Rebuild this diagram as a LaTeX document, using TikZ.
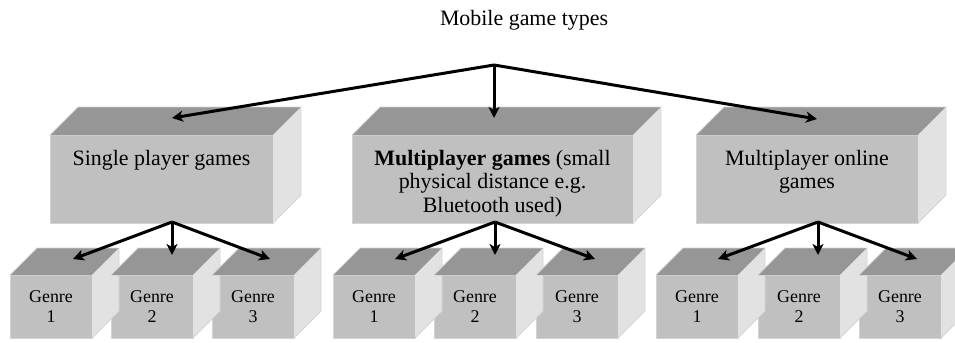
\documentclass[tikz,border=0pt]{standalone}
\usepackage{fontspec}
\setmainfont{Liberation Serif}
\usetikzlibrary{arrows.meta}
\definecolor{frontc}{HTML}{C0C0C0}
\definecolor{topc}{HTML}{969696}
\definecolor{sidec}{HTML}{E2E2E2}
\definecolor{edgec}{HTML}{D4D4D4}
\newcommand\cubefaces[2]{%
  \fill[topc] (#1.north west) -- ([shift={(#2,-#2)}]#1.north west) -- ([shift={(#2,-#2)}]#1.north east) -- (#1.north east) -- cycle;
  \fill[sidec] (#1.north east) -- ([shift={(#2,-#2)}]#1.north east) -- ([shift={(#2,-#2)}]#1.south east) -- (#1.south east) -- cycle;
  \draw[edgec,line width=0.8bp] (#1.north west) -- ([shift={(#2,-#2)}]#1.north west) -- ([shift={(#2,-#2)}]#1.north east) -- ([shift={(#2,-#2)}]#1.south east) -- (#1.south east);
}
\tikzset{
  bigface/.style={rectangle, fill=frontc, draw=edgec, line width=0.8bp, inner sep=0pt, outer sep=0pt, minimum height=88bp},
  smallface/.style={rectangle, fill=frontc, draw=edgec, line width=0.8bp, inner sep=0pt, outer sep=0pt, minimum width=82bp, minimum height=63bp, align=center, font=\fontsize{18}{19.5}\selectfont},
  bigtext/.style={inner sep=0pt, anchor=north, align=center, font=\fontsize{22}{23.5}\selectfont},
  arr/.style={-{Stealth[length=11bp,width=11bp,inset=3bp]}, line width=3bp, black}
}
\begin{document}
\begin{tikzpicture}[x=1bp,y=-1bp]
\useasboundingbox (0,0) rectangle (955,342);
\node[inner sep=0pt, anchor=base, font=\fontsize{22}{24}\selectfont] (title) at (524,25) {Mobile game types};
% big boxes
\node[bigface, minimum width=223bp] (b1) at (161.5,179) {};
\node[bigface, minimum width=281bp] (b2) at (492.5,179) {};
\node[bigface, minimum width=222bp] (b3) at (807,179) {};
\cubefaces{b1}{28}
\cubefaces{b2}{28}
\cubefaces{b3}{28}
\node[bigtext] (t1) at (161.5,150) {Single player games};
\node[bigtext] (t2) at (492.5,150) {\textbf{Multiplayer games} (small\\physical distance e.g.\\Bluetooth used)};
\node[bigtext] (t3) at (807,150) {Multiplayer online\\games};
% small boxes
\foreach \g/\xa/\xb/\xc in {1/51/152/253, 2/374/475/577, 3/697/799/900}{
  \node[smallface] (g\g a) at (\xa,306.5) {Genre\\1};
  \node[smallface] (g\g b) at (\xb,306.5) {Genre\\2};
  \node[smallface] (g\g c) at (\xc,306.5) {Genre\\3};
  \cubefaces{g\g a}{27}
  \cubefaces{g\g b}{27}
  \cubefaces{g\g c}{27}
}
% connectors
\coordinate (root) at (494,65);
\coordinate (tip1) at (172,118);
\coordinate (tip2) at (494,118);
\coordinate (tip3) at (817,119);
\draw[arr] (root) -- (tip1);
\draw[arr] (root) -- (tip2);
\draw[arr] (root) -- (tip3);
\coordinate (o1) at (172,222);
\coordinate (o2) at (495,222);
\coordinate (o3) at (818,222);
\draw[arr] (o1) -- (73,259);
\draw[arr] (o1) -- (172,255);
\draw[arr] (o1) -- (270,259);
\draw[arr] (o2) -- (395,259);
\draw[arr] (o2) -- (495,255);
\draw[arr] (o2) -- (595,259);
\draw[arr] (o3) -- (718,259);
\draw[arr] (o3) -- (818,255);
\draw[arr] (o3) -- (917,259);
\end{tikzpicture}
\end{document}
